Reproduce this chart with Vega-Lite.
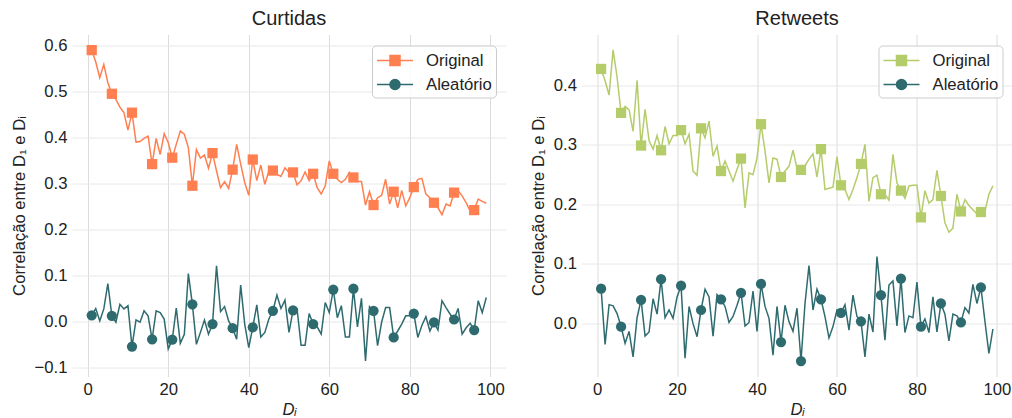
{
  "$schema": "https://vega.github.io/schema/vega-lite/v6.json",
  "padding": {"left": 11, "top": 8.5, "right": 0, "bottom": 0},
  "spacing": 23.5,
  "config": {
    "font": "Liberation Sans",
    "view": {"stroke": null},
    "axis": {"domain": false, "ticks": false, "labelFontSize": 16.7, "labelColor": "#222", "titleFontSize": 16.7, "titleFontWeight": "normal", "titleColor": "#222", "labelPadding": 5, "gridColor": "#e8e8e8", "gridWidth": 1},
    "axisX": {"gridColor": "#dcdcdc", "titlePadding": 3},
    "axisY": {"titlePadding": 6},
    "title": {"fontSize": 20, "fontWeight": "normal", "color": "#222", "offset": 6},
    "legend": {"orient": "top-right", "offset": 10.5, "labelFontSize": 16.7, "labelColor": "#222", "fillColor": "rgba(255,255,255,0.85)", "strokeColor": "#cccccc", "cornerRadius": 4, "padding": 4, "rowPadding": 4, "symbolSize": 400, "labelOffset": 28, "title": null}
  },
  "datasets": {
    "curtidas": [
      {"d":1,"Original":0.591,"Aleatório":0.014},{"d":2,"Original":0.565,"Aleatório":0.029},{"d":3,"Original":0.531,"Aleatório":0.002},{"d":4,"Original":0.560,"Aleatório":0.028},{"d":5,"Original":0.520,"Aleatório":0.083},
      {"d":6,"Original":0.496,"Aleatório":0.013},{"d":7,"Original":0.484,"Aleatório":-0.001},{"d":8,"Original":0.467,"Aleatório":0.038},{"d":9,"Original":0.455,"Aleatório":0.028},{"d":10,"Original":0.417,"Aleatório":0.035},
      {"d":11,"Original":0.455,"Aleatório":-0.054},{"d":12,"Original":0.391,"Aleatório":0.004},{"d":13,"Original":0.392,"Aleatório":-0.001},{"d":14,"Original":0.399,"Aleatório":0.024},{"d":15,"Original":0.404,"Aleatório":0.013},
      {"d":16,"Original":0.343,"Aleatório":-0.038},{"d":17,"Original":0.399,"Aleatório":0.024},{"d":18,"Original":0.364,"Aleatório":0.020},{"d":19,"Original":0.409,"Aleatório":0.006},{"d":20,"Original":0.390,"Aleatório":-0.059},
      {"d":21,"Original":0.357,"Aleatório":-0.039},{"d":22,"Original":0.386,"Aleatório":0.030},{"d":23,"Original":0.415,"Aleatório":-0.047},{"d":24,"Original":0.408,"Aleatório":-0.027},{"d":25,"Original":0.379,"Aleatório":0.105},
      {"d":26,"Original":0.296,"Aleatório":0.038},{"d":27,"Original":0.375,"Aleatório":-0.049},{"d":28,"Original":0.356,"Aleatório":-0.023},{"d":29,"Original":0.363,"Aleatório":0.004},{"d":30,"Original":0.334,"Aleatório":-0.027},
      {"d":31,"Original":0.367,"Aleatório":-0.005},{"d":32,"Original":0.328,"Aleatório":0.122},{"d":33,"Original":0.292,"Aleatório":0.022},{"d":34,"Original":0.305,"Aleatório":0.033},{"d":35,"Original":0.290,"Aleatório":0.002},
      {"d":36,"Original":0.331,"Aleatório":-0.014},{"d":37,"Original":0.386,"Aleatório":-0.038},{"d":38,"Original":0.343,"Aleatório":0.080},{"d":39,"Original":0.303,"Aleatório":-0.005},{"d":40,"Original":0.275,"Aleatório":-0.056},
      {"d":41,"Original":0.353,"Aleatório":-0.012},{"d":42,"Original":0.307,"Aleatório":0.037},{"d":43,"Original":0.341,"Aleatório":-0.033},{"d":44,"Original":0.299,"Aleatório":-0.023},{"d":45,"Original":0.328,"Aleatório":0.006},
      {"d":46,"Original":0.329,"Aleatório":0.024},{"d":47,"Original":0.321,"Aleatório":0.058},{"d":48,"Original":0.316,"Aleatório":0.029},{"d":49,"Original":0.335,"Aleatório":0.047},{"d":50,"Original":0.325,"Aleatório":-0.023},
      {"d":51,"Original":0.325,"Aleatório":0.025},{"d":52,"Original":0.298,"Aleatório":0.028},{"d":53,"Original":0.307,"Aleatório":-0.051},{"d":54,"Original":0.326,"Aleatório":-0.051},{"d":55,"Original":0.307,"Aleatório":0.018},
      {"d":56,"Original":0.322,"Aleatório":-0.005},{"d":57,"Original":0.292,"Aleatório":-0.011},{"d":58,"Original":0.278,"Aleatório":-0.027},{"d":59,"Original":0.296,"Aleatório":0.042},{"d":60,"Original":0.350,"Aleatório":0.020},
      {"d":61,"Original":0.322,"Aleatório":0.070},{"d":62,"Original":0.310,"Aleatório":0.009},{"d":63,"Original":0.303,"Aleatório":0.035},{"d":64,"Original":0.310,"Aleatório":-0.033},{"d":65,"Original":0.325,"Aleatório":-0.033},
      {"d":66,"Original":0.314,"Aleatório":0.072},{"d":67,"Original":0.305,"Aleatório":-0.011},{"d":68,"Original":0.305,"Aleatório":0.051},{"d":69,"Original":0.254,"Aleatório":-0.085},{"d":70,"Original":0.283,"Aleatório":0.033},
      {"d":71,"Original":0.254,"Aleatório":0.024},{"d":72,"Original":0.270,"Aleatório":-0.052},{"d":73,"Original":0.275,"Aleatório":-0.001},{"d":74,"Original":0.310,"Aleatório":0.031},{"d":75,"Original":0.256,"Aleatório":0.031},
      {"d":76,"Original":0.283,"Aleatório":-0.034},{"d":77,"Original":0.248,"Aleatório":-0.020},{"d":78,"Original":0.286,"Aleatório":-0.005},{"d":79,"Original":0.252,"Aleatório":0.013},{"d":80,"Original":0.270,"Aleatório":0.013},
      {"d":81,"Original":0.293,"Aleatório":0.018},{"d":82,"Original":0.310,"Aleatório":-0.034},{"d":83,"Original":0.312,"Aleatório":-0.008},{"d":84,"Original":0.278,"Aleatório":0.011},{"d":85,"Original":0.270,"Aleatório":-0.020},
      {"d":86,"Original":0.259,"Aleatório":-0.001},{"d":87,"Original":0.248,"Aleatório":-0.018},{"d":88,"Original":0.233,"Aleatório":0.046},{"d":89,"Original":0.256,"Aleatório":0.031},{"d":90,"Original":0.252,"Aleatório":0.017},
      {"d":91,"Original":0.281,"Aleatório":0.005},{"d":92,"Original":0.285,"Aleatório":0.029},{"d":93,"Original":0.274,"Aleatório":-0.027},{"d":94,"Original":0.259,"Aleatório":-0.013},{"d":95,"Original":0.241,"Aleatório":-0.003},
      {"d":96,"Original":0.243,"Aleatório":-0.018},{"d":97,"Original":0.267,"Aleatório":0.046},{"d":98,"Original":0.262,"Aleatório":0.020},{"d":99,"Original":0.258,"Aleatório":0.053}
    ],
    "retweets": [
      {"d":1,"Original":0.428,"Aleatório":0.058},{"d":2,"Original":0.408,"Aleatório":-0.036},{"d":3,"Original":0.384,"Aleatório":0.031},{"d":4,"Original":0.460,"Aleatório":0.029},{"d":5,"Original":0.414,"Aleatório":0.016},
      {"d":6,"Original":0.354,"Aleatório":-0.006},{"d":7,"Original":0.365,"Aleatório":-0.034},{"d":8,"Original":0.359,"Aleatório":-0.014},{"d":9,"Original":0.323,"Aleatório":-0.057},{"d":10,"Original":0.409,"Aleatório":0.009},
      {"d":11,"Original":0.299,"Aleatório":0.039},{"d":12,"Original":0.360,"Aleatório":-0.022},{"d":13,"Original":0.307,"Aleatório":-0.015},{"d":14,"Original":0.293,"Aleatório":0.041},{"d":15,"Original":0.316,"Aleatório":0.015},
      {"d":16,"Original":0.291,"Aleatório":0.074},{"d":17,"Original":0.331,"Aleatório":0.009},{"d":18,"Original":0.302,"Aleatório":0.022},{"d":19,"Original":0.316,"Aleatório":0.008},{"d":20,"Original":0.316,"Aleatório":0.044},
      {"d":21,"Original":0.325,"Aleatório":0.063},{"d":22,"Original":0.302,"Aleatório":-0.059},{"d":23,"Original":0.318,"Aleatório":0.028},{"d":24,"Original":0.256,"Aleatório":-0.001},{"d":25,"Original":0.249,"Aleatório":-0.023},
      {"d":26,"Original":0.328,"Aleatório":0.022},{"d":27,"Original":0.312,"Aleatório":0.057},{"d":28,"Original":0.340,"Aleatório":0.044},{"d":29,"Original":0.281,"Aleatório":-0.022},{"d":30,"Original":0.298,"Aleatório":0.048},
      {"d":31,"Original":0.256,"Aleatório":0.040},{"d":32,"Original":0.273,"Aleatório":0.028},{"d":33,"Original":0.256,"Aleatório":0.001},{"d":34,"Original":0.239,"Aleatório":0.011},{"d":35,"Original":0.259,"Aleatório":0.030},
      {"d":36,"Original":0.277,"Aleatório":0.051},{"d":37,"Original":0.194,"Aleatório":-0.005},{"d":38,"Original":0.253,"Aleatório":0.001},{"d":39,"Original":0.250,"Aleatório":0.054},{"d":40,"Original":0.278,"Aleatório":-0.014},
      {"d":41,"Original":0.335,"Aleatório":0.066},{"d":42,"Original":0.290,"Aleatório":0.028},{"d":43,"Original":0.236,"Aleatório":0.008},{"d":44,"Original":0.278,"Aleatório":-0.054},{"d":45,"Original":0.276,"Aleatório":0.028},
      {"d":46,"Original":0.246,"Aleatório":-0.032},{"d":47,"Original":0.256,"Aleatório":0.030},{"d":48,"Original":0.264,"Aleatório":0.002},{"d":49,"Original":0.291,"Aleatório":-0.014},{"d":50,"Original":0.261,"Aleatório":0.025},
      {"d":51,"Original":0.258,"Aleatório":-0.064},{"d":52,"Original":0.265,"Aleatório":0.033},{"d":53,"Original":0.276,"Aleatório":0.097},{"d":54,"Original":0.285,"Aleatório":0.022},{"d":55,"Original":0.246,"Aleatório":0.057},
      {"d":56,"Original":0.293,"Aleatório":0.040},{"d":57,"Original":0.225,"Aleatório":0.011},{"d":58,"Original":0.227,"Aleatório":-0.025},{"d":59,"Original":0.229,"Aleatório":-0.006},{"d":60,"Original":0.280,"Aleatório":0.022},
      {"d":61,"Original":0.232,"Aleatório":0.017},{"d":62,"Original":0.225,"Aleatório":0.031},{"d":63,"Original":0.208,"Aleatório":-0.012},{"d":64,"Original":0.225,"Aleatório":0.047},{"d":65,"Original":0.245,"Aleatório":0.011},
      {"d":66,"Original":0.268,"Aleatório":0.003},{"d":67,"Original":0.301,"Aleatório":-0.057},{"d":68,"Original":0.205,"Aleatório":0.015},{"d":69,"Original":0.245,"Aleatório":-0.015},{"d":70,"Original":0.249,"Aleatório":0.112},
      {"d":71,"Original":0.217,"Aleatório":0.047},{"d":72,"Original":0.217,"Aleatório":-0.029},{"d":73,"Original":0.207,"Aleatório":0.064},{"d":74,"Original":0.284,"Aleatório":0.071},{"d":75,"Original":0.236,"Aleatório":-0.005},
      {"d":76,"Original":0.223,"Aleatório":0.075},{"d":77,"Original":0.210,"Aleatório":-0.016},{"d":78,"Original":0.231,"Aleatório":0.012},{"d":79,"Original":0.232,"Aleatório":0.009},{"d":80,"Original":0.232,"Aleatório":0.069},
      {"d":81,"Original":0.178,"Aleatório":-0.006},{"d":82,"Original":0.223,"Aleatório":0.007},{"d":83,"Original":0.202,"Aleatório":-0.016},{"d":84,"Original":0.208,"Aleatório":0.044},{"d":85,"Original":0.257,"Aleatório":-0.015},
      {"d":86,"Original":0.214,"Aleatório":0.033},{"d":87,"Original":0.169,"Aleatório":0.015},{"d":88,"Original":0.153,"Aleatório":-0.030},{"d":89,"Original":0.160,"Aleatório":0.015},{"d":90,"Original":0.217,"Aleatório":0.012},
      {"d":91,"Original":0.188,"Aleatório":0.001},{"d":92,"Original":0.208,"Aleatório":0.026},{"d":93,"Original":0.198,"Aleatório":0.017},{"d":94,"Original":0.191,"Aleatório":0.065},{"d":95,"Original":0.184,"Aleatório":0.033},
      {"d":96,"Original":0.187,"Aleatório":0.060},{"d":97,"Original":0.188,"Aleatório":0.003},{"d":98,"Original":0.217,"Aleatório":-0.051},{"d":99,"Original":0.231,"Aleatório":-0.010}
    ]
  },
  "resolve": {"scale": {"color": "independent", "y": "independent", "x": "independent"}, "legend": {"color": "independent"}},
  "hconcat": [
    {
      "title": "Curtidas",
      "width": 434,
      "height": 342,
      "data": {"name": "curtidas"},
      "transform": [{"fold": ["Original", "Aleatório"], "as": ["serie", "r"]}],
      "encoding": {
        "x": {"field": "d", "type": "quantitative", "scale": {"domain": [-3.9, 103.9], "nice": false, "zero": false}, "axis": {"title": "Dᵢ", "titleFontStyle": "italic", "values": [0, 20, 40, 60, 80, 100]}},
        "y": {"field": "r", "type": "quantitative", "scale": {"domain": [-0.119, 0.625], "nice": false, "zero": false}, "axis": {"title": "Correlação entre D₁ e Dᵢ", "values": [-0.1, 0, 0.1, 0.2, 0.3, 0.4, 0.5, 0.6], "format": ".1f"}},
        "color": {"field": "serie", "type": "nominal", "scale": {"domain": ["Original", "Aleatório"], "range": ["#FF7F50", "#2E6B6F"]},
          "legend": {"encode": {"symbols": {"update": {
            "shape": {"signal": "datum.value === 'Original' ? 'M-1,0H2.6M0.3,-0.5H1.3V0.5H0.3Z' : 'M-1,0H2.6M1.3,0A0.5,0.5,0,1,1,0.3,0A0.5,0.5,0,1,1,1.3,0Z'"},
            "fill": {"signal": "datum.value === 'Original' ? '#FF7F50' : '#2E6B6F'"},
            "stroke": {"signal": "datum.value === 'Original' ? '#FF7F50' : '#2E6B6F'"},
            "strokeWidth": {"value": 1.5},
            "opacity": {"value": 1}
          }}}}
        }
      },
      "layer": [
        {"mark": {"type": "line", "strokeWidth": 1.5}},
        {
          "transform": [{"filter": "datum.d % 5 == 1"}],
          "mark": {"type": "point", "filled": true, "opacity": 1, "size": 105},
          "encoding": {
            "shape": {"field": "serie", "type": "nominal", "scale": {"domain": ["Original", "Aleatório"], "range": ["square", "circle"]}, "legend": null}
          }
        }
      ]
    },
    {
      "title": "Retweets",
      "width": 431,
      "height": 342,
      "data": {"name": "retweets"},
      "transform": [{"fold": ["Original", "Aleatório"], "as": ["serie", "r"]}],
      "encoding": {
        "x": {"field": "d", "type": "quantitative", "scale": {"domain": [-3.9, 103.9], "nice": false, "zero": false}, "axis": {"title": "Dᵢ", "titleFontStyle": "italic", "values": [0, 20, 40, 60, 80, 100]}},
        "y": {"field": "r", "type": "quantitative", "scale": {"domain": [-0.09, 0.486], "nice": false, "zero": false}, "axis": {"title": "Correlação entre D₁ e Dᵢ", "values": [0, 0.1, 0.2, 0.3, 0.4], "format": ".1f"}},
        "color": {"field": "serie", "type": "nominal", "scale": {"domain": ["Original", "Aleatório"], "range": ["#B5CC6B", "#2E6B6F"]},
          "legend": {"encode": {"symbols": {"update": {
            "shape": {"signal": "datum.value === 'Original' ? 'M-1,0H2.6M0.3,-0.5H1.3V0.5H0.3Z' : 'M-1,0H2.6M1.3,0A0.5,0.5,0,1,1,0.3,0A0.5,0.5,0,1,1,1.3,0Z'"},
            "fill": {"signal": "datum.value === 'Original' ? '#B5CC6B' : '#2E6B6F'"},
            "stroke": {"signal": "datum.value === 'Original' ? '#B5CC6B' : '#2E6B6F'"},
            "strokeWidth": {"value": 1.5},
            "opacity": {"value": 1}
          }}}}
        }
      },
      "layer": [
        {"mark": {"type": "line", "strokeWidth": 1.5}},
        {
          "transform": [{"filter": "datum.d % 5 == 1"}],
          "mark": {"type": "point", "filled": true, "opacity": 1, "size": 105},
          "encoding": {
            "shape": {"field": "serie", "type": "nominal", "scale": {"domain": ["Original", "Aleatório"], "range": ["square", "circle"]}, "legend": null}
          }
        }
      ]
    }
  ]
}
